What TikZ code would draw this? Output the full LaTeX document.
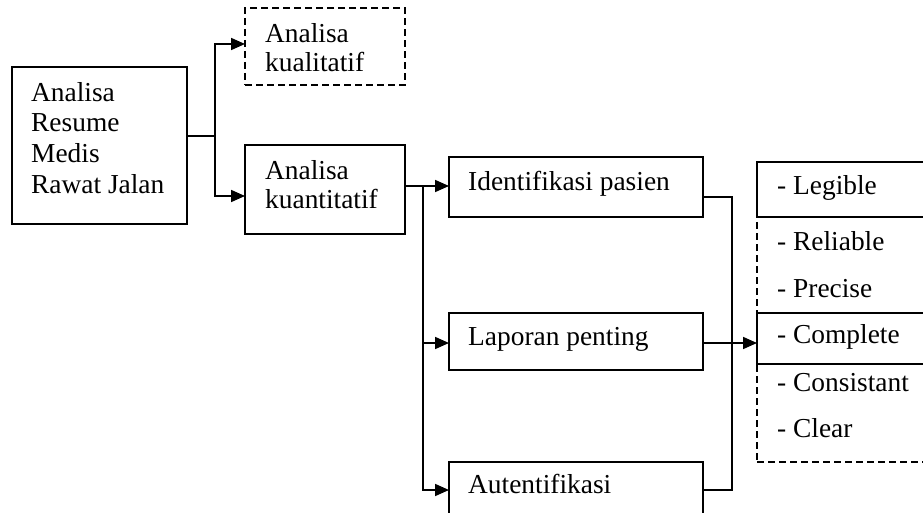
\documentclass[tikz,border=0pt]{standalone}
\usepackage{fontspec}
\setmainfont{Liberation Serif}
\usetikzlibrary{arrows.meta}
\begin{document}
\begin{tikzpicture}[x=1pt,y=-1pt,
  box/.style={draw, line width=1.7pt, inner sep=0pt, outer sep=0pt},
  dbox/.style={box, dash pattern=on 7pt off 4pt},
  txt/.style={anchor=base west, inner sep=0pt, font=\fontsize{27.4}{31.5}\selectfont},
  ln/.style={line width=1.7pt},
  arr/.style={ln, -{Triangle[length=14pt,width=12pt]}}]
\useasboundingbox (0,0) rectangle (923,513);
\clip (0,0) rectangle (923,513);
\fill[white] (0,0) rectangle (923,513);
% boxes
\node[box, minimum width=175pt, minimum height=157pt] (main) at (99.5,145.5) {};
\node[dbox, minimum width=160pt, minimum height=77pt] (kual) at (325,46.5) {};
\node[box, minimum width=160pt, minimum height=89pt] (kuan) at (325,189.5) {};
\node[box, minimum width=254pt, minimum height=60pt] (ident) at (576,187) {};
\node[box, minimum width=254pt, minimum height=57pt] (lap) at (576,341.5) {};
\node[box, minimum width=254pt, minimum height=60pt] (aut) at (576,492) {};
\node[dbox, line width=1.3pt, minimum width=183pt, minimum height=300pt] (crit) at (848.5,312) {};
\node[box, fill=white, minimum width=183pt, minimum height=55pt] (leg) at (848.5,189.5) {};
\node[box, fill=white, minimum width=183pt, minimum height=51pt] (comp) at (848.5,338.5) {};
% texts
\node[txt] (m1) at (31,101.5) {Analisa};
\node[txt] (m2) at (31,132) {Resume};
\node[txt] (m3) at (31,163) {Medis};
\node[txt] (m4) at (31,193.5) {Rawat Jalan};
\node[txt] (k1) at (265,43) {Analisa};
\node[txt] (k2) at (265,72) {kualitatif};
\node[txt] (q1) at (265,180) {Analisa};
\node[txt] (q2) at (265,208.5) {kuantitatif};
\node[txt] (t1) at (468,190) {Identifikasi pasien};
\node[txt] (t2) at (468,345) {Laporan penting};
\node[txt] (t3) at (468,493) {Autentifikasi};
\node[txt] (c1) at (777,195) {- Legible};
\node[txt] (c2) at (777,250) {- Reliable};
\node[txt] (c3) at (777,297) {- Precise};
\node[txt] (c4) at (777,343) {- Complete};
\node[txt] (c5) at (777,391) {- Consistant};
\node[txt] (c6) at (777,437) {- Clear};
% connectors
\coordinate (j1) at (215,136);
\coordinate (j2) at (423,186);
\coordinate (j3) at (732,197);
\draw[ln] (main.east |- j1) -- (j1);
\draw[arr] (j1) |- (kual.west |- 0,44);
\draw[arr] (j1) |- (kuan.west |- 0,196);
\draw[arr] (kuan.east |- j2) -- (ident.west |- j2);
\draw[arr] (j2) |- (aut.west |- 0,490);
\draw[arr] (j2 |- 0,343) -- (lap.west |- 0,343);
\draw[ln] (ident.east |- j3) -- (j3) |- (aut.east |- 0,490);
\draw[arr] (lap.east |- 0,343) -- (crit.west |- 0,343);
\end{tikzpicture}
\end{document}
